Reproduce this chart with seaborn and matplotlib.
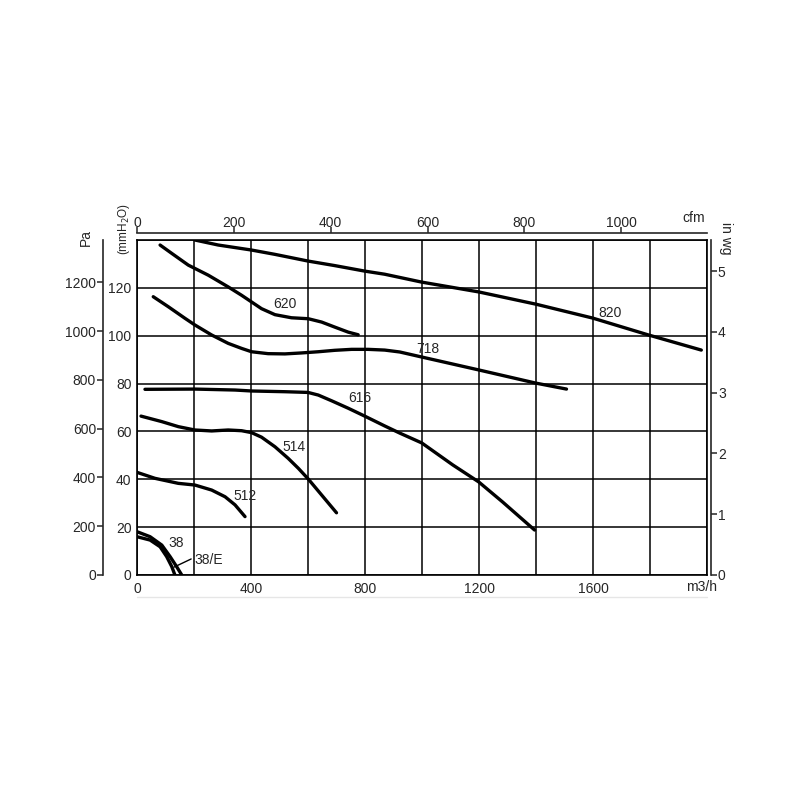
import pandas as pd
import matplotlib
matplotlib.use('Agg')
import matplotlib.pyplot as plt
import seaborn as sns
from matplotlib.lines import Line2D

# Kennlinien: Volumenstrom (m3/h) und Druck (mmH2O)
q_820 = [203, 285, 402, 484, 600, 694, 799, 869, 999, 1199, 1399, 1598, 1795, 1980]
p_820 = [140, 137.9, 135.8, 134.0, 131.2, 129.3, 127.0, 125.7, 122.4, 118.3, 113.2, 107.4, 100.3, 94.0]

q_620 = [81, 122, 180, 250, 320, 367, 402, 437, 484, 542, 601, 648, 694, 741, 776]
p_620 = [137.9, 134.4, 129.5, 125.3, 120.4, 116.9, 114.1, 111.3, 108.8, 107.5, 107.1, 105.7, 103.6, 101.5, 100.4]

q_718 = [57, 110, 168, 203, 262, 320, 367, 402, 460, 519, 577, 636, 694, 753, 811, 869,
         922, 999, 1199, 1399, 1507]
p_718 = [116.3, 112.1, 107.3, 104.5, 100.3, 96.8, 94.7, 93.3, 92.5, 92.4, 92.8, 93.3, 93.9, 94.3, 94.3, 94.0,
         93.2, 91.1, 85.7, 80.2, 77.7]

q_616 = [28, 203, 344, 402, 519, 600, 636, 683, 741, 799, 869, 922, 999, 1108, 1199, 1283, 1395]
p_616 = [77.6, 77.7, 77.3, 76.9, 76.6, 76.3, 75.2, 72.8, 69.7, 66.4, 62.3, 59.3, 55.2, 46.0, 38.9, 30.5, 18.8]

q_514 = [14, 87, 145, 203, 262, 320, 367, 402, 437, 484, 530, 566, 601, 648, 700]
p_514 = [66.4, 64.1, 62.0, 60.6, 60.2, 60.6, 60.3, 59.5, 57.6, 53.6, 48.8, 44.6, 40.1, 33.4, 26.0]

q_512 = [0, 63, 145, 203, 262, 309, 344, 379]
p_512 = [42.9, 40.4, 38.3, 37.6, 35.5, 32.7, 29.3, 24.4]

q_38 = [0, 46, 87, 116, 139, 157]
p_38 = [18.1, 16.0, 12.5, 7.7, 3.5, 0]

q_38e = [0, 46, 81, 104, 122, 133]
p_38e = [16.0, 14.6, 11.8, 7.7, 3.5, 0]

# Beschriftungen der Kurven (Position in m3/h, mmH2O)
labels = ['820', '620', '718', '616', '514', '512', '38', '38/E']
label_q = [1661, 519, 1020, 782, 550, 379, 137, 250]
label_p = [109.5, 113.2, 94.4, 74.0, 53.5, 33.0, 13.4, 6.3]

kurven = {
    '820': (q_820, p_820), '620': (q_620, p_620), '718': (q_718, p_718),
    '616': (q_616, p_616), '514': (q_514, p_514), '512': (q_512, p_512),
    '38': (q_38, p_38), '38/E': (q_38e, p_38e),
}
rows = []
for name, (qs, ps) in kurven.items():
    for q, p in zip(qs, ps):
        rows.append({'modell': name, 'q': q, 'p': p})
df = pd.DataFrame(rows)

sns.set_style('white')
plt.rcParams['font.family'] = ['Liberation Sans', 'DejaVu Sans']
plt.rcParams['font.size'] = 10

fig = plt.figure(figsize=(8, 8), dpi=100)
ax = fig.add_axes([137 / 800, 225 / 800, 570 / 800, 335 / 800])

sns.lineplot(data=df, x='q', y='p', units='modell', estimator=None, sort=False,
             color='black', linewidth=2.4, ax=ax)
for ln in ax.lines:
    ln.set_solid_joinstyle('round')
    ln.set_solid_capstyle('round')

ax.set_xlim(0, 2000)
ax.set_ylim(0, 140)
ax.set_xlabel('')
ax.set_ylabel('')

xt = list(range(0, 2001, 200))
ax.set_xticks(xt)
ax.set_xticklabels([str(v) if v % 400 == 0 and v < 2000 else '' for v in xt])
yt = list(range(0, 141, 20))
ax.set_yticks(yt)
ax.set_yticklabels([str(v) if v < 140 else '' for v in yt])
ax.grid(True, color='black', linewidth=1.1)
for s in ax.spines.values():
    s.set_color('black')
    s.set_linewidth(1.2)
ax.tick_params(axis='both', direction='out', length=4, width=1.1, color='black',
               labelsize=10, pad=1)
ax.tick_params(axis='y', pad=0)

for name, q, p in zip(labels, label_q, label_p):
    ax.text(q, p, name, ha='center', va='center', fontsize=10)
# Hinweislinie fuer 38/E
ax.plot([190, 130], [6.7, 3.3], color='black', linewidth=1.0)

ax.text(0.991, -0.036, 'm3/h', transform=ax.transAxes, ha='center', va='center', fontsize=10)

# cfm oben
top = ax.secondary_xaxis(1.021, functions=(lambda q: q / 1.699, lambda c: c * 1.699))
top.set_xticks(list(range(0, 1001, 200)))
top.tick_params(direction='out', length=4, width=1.1, labelsize=10, pad=-2)
top.spines['top'].set_linewidth(1.2)
ax.text(0.977, 1.066, 'cfm', transform=ax.transAxes, ha='center', va='center', fontsize=10)

# Pa links aussen
pa = ax.secondary_yaxis(-0.0596, functions=(lambda m: m * 9.81, lambda p: p / 9.81))
pa.set_yticks(list(range(0, 1201, 200)))
pa.tick_params(direction='out', length=4, width=1.1, labelsize=10, pad=1)
pa.spines['left'].set_linewidth(1.2)
fig.text(86 / 800, 1 - 237 / 800, 'Pa', rotation=90, ha='center', va='center', fontsize=10)
fig.text(124 / 800, 1 - 229 / 800, '(mmH$_2$O)', rotation=90, ha='center', va='center',
         fontsize=8.5)

# in wg rechts
wg = ax.secondary_yaxis(1.007, functions=(lambda m: m / 25.4, lambda w: w * 25.4))
wg.set_yticks(list(range(0, 6)))
wg.tick_params(direction='out', length=4, width=1.1, labelsize=10, pad=1)
wg.spines['right'].set_linewidth(1.2)
fig.text(726 / 800, 1 - 238 / 800, 'in wg', rotation=270, ha='center', va='center', fontsize=10)

# feine graue Linie unten
fig.add_artist(Line2D([137 / 800, 707 / 800], [1 - 597 / 800, 1 - 597 / 800],
                      color='#e6e6e6', linewidth=1.0))

fig.savefig('out.png', dpi=100, facecolor='white')
